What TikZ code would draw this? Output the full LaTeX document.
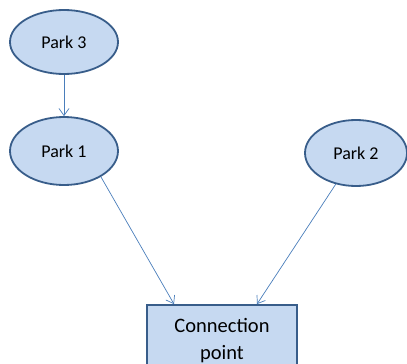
\documentclass[tikz,border=0pt]{standalone}
\usepackage{fontspec}
\setmainfont{Carlito}
\usetikzlibrary{shapes.geometric,arrows.meta}
\definecolor{fillblue}{HTML}{C6D9F1}
\definecolor{edgeblue}{HTML}{385D8A}
\definecolor{linkblue}{HTML}{4A7EBB}
\tikzset{
  park/.style={ellipse, draw=edgeblue, fill=fillblue, line width=1.8pt, inner sep=0pt, font=\fontsize{18}{20}\selectfont},
  cbox/.style={rectangle, draw=edgeblue, fill=fillblue, line width=1.8pt, inner sep=0pt, align=center, font=\fontsize{20.5}{27}\selectfont},
  link/.style={draw=linkblue, line width=0.7pt, -{Straight Barb[length=7pt,width=10pt,line width=0.7pt]}}
}
\begin{document}
\begin{tikzpicture}[x=1pt,y=-1pt]
\useasboundingbox (0,0) rectangle (407,364);
\node[park, minimum width=108pt, minimum height=64pt] (p3) at (64,42) {Park 3};
\node[park, minimum width=108pt, minimum height=68pt] (p1) at (64,151) {Park 1};
\node[park, minimum width=102pt, minimum height=66pt] (p2) at (356,153) {Park 2};
\node[cbox, minimum width=150pt, minimum height=72pt] (cp) at (222,341) {Connection\\point};
\draw[link] (p3.south) -- (p1.north);
\draw[link] (p1.-35) -- ([xshift=-48pt]cp.north);
\draw[link] (p2.237) -- ([xshift=35pt]cp.north);
\end{tikzpicture}
\end{document}
